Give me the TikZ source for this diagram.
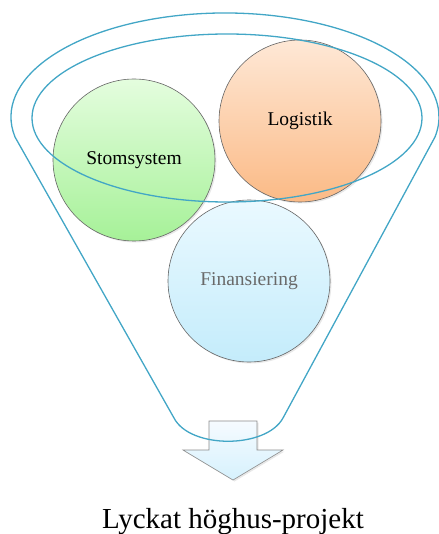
\documentclass[tikz,border=0pt]{standalone}
\usepackage{fontspec}
\setmainfont{Liberation Serif}
\usetikzlibrary{shadows}
\usepackage{xcolor}

\definecolor{funnel}{RGB}{66,166,198}
\definecolor{stomtop}{RGB}{228,253,222}
\definecolor{stombot}{RGB}{166,241,152}
\definecolor{logitop}{RGB}{254,232,214}
\definecolor{logibot}{RGB}{251,186,134}
\definecolor{fintop}{RGB}{234,249,255}
\definecolor{finbot}{RGB}{196,236,251}
\definecolor{fintext}{RGB}{105,105,105}
\definecolor{pipetop}{RGB}{246,251,255}
\definecolor{pipebot}{RGB}{214,241,253}

\begin{document}
\begin{tikzpicture} [x=1pt, y=-1pt,
  bubble/.style={circle, draw=black!60, line width=.6pt, minimum size=162pt, inner sep=0pt,
    font=\fontsize{19.5}{23}\selectfont,
    drop shadow={opacity=.18, shadow xshift=1.5pt, shadow yshift=-1.5pt}},
  rim/.style={draw=funnel, line width=1.3pt}]
\useasboundingbox (0,0) rectangle (438,534);
% the three circles
\node[bubble, top color=stomtop, bottom color=stombot] (stom) at (134,160) {Stomsystem};
\node[bubble, top color=logitop, bottom color=logibot] (logi) at (300,121) {Logistik};
\node[bubble, top color=fintop, bottom color=finbot, text=fintext] (fin) at (249,281) {Finansiering};
% arrow out of the funnel
\draw[black!45, line width=.6pt, top color=pipetop, bottom color=pipebot,
  drop shadow={opacity=.18, shadow xshift=1.5pt, shadow yshift=-1.5pt}]
  (209,421) -- (257,421) -- (257,450) -- (283,450) -- (233,480) -- (183,450) -- (209,450) -- cycle;
% funnel
\coordinate (rimL) at (15,137);
\coordinate (neckR) at (283,418);
\coordinate (neckL) at (174,418);
\draw[rim] (227,118) ellipse [x radius=195, y radius=84];
\draw[rim] (rimL) arc[start angle=168.9, end angle=371.1, x radius=214, y radius=104]
  -- (neckR) .. controls (266,449) and (190,449) .. (neckL) -- cycle;
\node[font=\fontsize{29}{34}\selectfont, anchor=base] (goal) at (233,528) {Lyckat höghus-projekt};
\end{tikzpicture}
\end{document}
